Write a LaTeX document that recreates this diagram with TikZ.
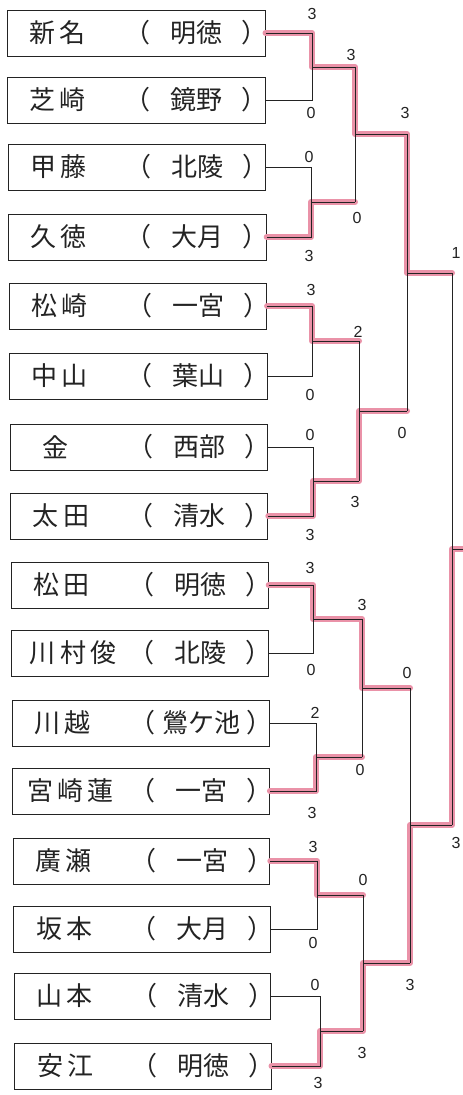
\documentclass[tikz,border=0pt]{standalone}
\usepackage{fontspec}
\newfontfamily\jp[LetterSpace=16]{Noto Sans CJK JP}
\newfontfamily\jpn{Noto Sans CJK JP}
\newfontfamily\digfont{Liberation Sans}
\definecolor{hl}{RGB}{234,146,168}
\definecolor{ink}{RGB}{35,35,35}
\begin{document}
\begin{tikzpicture}[x=1pt,y=-1pt,
  box/.style={draw=ink, line width=1pt, inner sep=0pt},
  nm/.style={font=\jp\fontsize{26}{26}\selectfont, anchor=west, inner sep=0pt, text=ink},
  par/.style={font=\jpn\fontsize{26}{26}\selectfont, inner sep=0pt, text=ink},
  sc/.style={font=\digfont\fontsize{16}{16}\selectfont, inner sep=0pt, text=ink},
  br/.style={draw=ink, line width=0.9pt},
  win/.style={draw=hl, line width=6pt, line join=round, line cap=round}]
\useasboundingbox (0,0) rectangle (463,1095);
\fill[white] (0,0) rectangle (463,1095);

% boxes and texts
\foreach \i/\c/\off/\n/\s in {0/33/22/新名/明徳, 1/100/22/芝崎/鏡野, 2/167/22/甲藤/北陵, 3/237/22/久徳/大月,
  4/306/22/松崎/一宮, 5/376/22/中山/葉山, 6/447/32/金/西部, 7/516/22/太田/清水,
  8/585/22/松田/明徳, 9/653/18/川村俊/北陵, 10/723/22/川越/鶯ケ池, 11/791/14/宮崎蓮/一宮,
  12/861/22/廣瀬/一宮, 13/929/22/坂本/大月, 14/996/22/山本/清水, 15/1066/22/安江/明徳} {
  \pgfmathsetmacro\L{7+0.533*\i}
  \pgfmathsetmacro\R{265+0.4*\i}
  \node[box, minimum width={(\R-\L)*1pt}, minimum height=46pt] (b\i) at ({(\L+\R)/2},\c) {};
  \node[nm] (n\i) at (\L+\off,\c) {\n};
  \node[par] (o\i) at (\L+130,\c) {（};
  \node[par] (sch\i) at (\L+189,\c) {\s};
  \node[par] (p\i) at (\L+247,\c) {）};
}

% junction coordinates
% round 1
\coordinate (a0) at (312,33);  \coordinate (a1) at (312,100); \coordinate (A) at (312,67);
\coordinate (a2) at (311,167); \coordinate (a3) at (311,237); \coordinate (B) at (311,202);
\coordinate (a4) at (312,306); \coordinate (a5) at (312,376); \coordinate (C) at (312,341);
\coordinate (a6) at (313,447); \coordinate (a7) at (313,516); \coordinate (D) at (313,481);
\coordinate (a8) at (313,585); \coordinate (a9) at (313,653); \coordinate (E) at (313,619);
\coordinate (a10) at (316,723); \coordinate (a11) at (316,791); \coordinate (F) at (316,757);
\coordinate (a12) at (317,861); \coordinate (a13) at (317,929); \coordinate (G) at (317,895);
\coordinate (a14) at (320,996); \coordinate (a15) at (320,1066); \coordinate (H) at (320,1031);
% round 2
\coordinate (A2) at (355,67);  \coordinate (B2) at (355,202); \coordinate (Q1) at (355,134);
\coordinate (C2) at (359,341); \coordinate (D2) at (359,481); \coordinate (Q2) at (359,411);
\coordinate (E2) at (362,619); \coordinate (F2) at (362,757); \coordinate (Q3) at (362,688);
\coordinate (G2) at (363,895); \coordinate (H2) at (363,1031); \coordinate (Q4) at (363,963);
% round 3
\coordinate (Q1b) at (407,134); \coordinate (Q2b) at (407,411); \coordinate (S1) at (407,273);
\coordinate (Q3b) at (410,688); \coordinate (Q4b) at (410,963); \coordinate (S2) at (410,825);
% final
\coordinate (S1b) at (452,273); \coordinate (S2b) at (452,825); \coordinate (W) at (452,549);
\coordinate (Wend) at (463,549);

% winner highlights
\draw[win] (b0.east |- a0) -- (a0) -- (A) -- (A2) -- (Q1) -- (Q1b) -- (S1) -- (S1b);
\draw[win] (b3.east |- a3) -- (a3) -- (B) -- (B2);
\draw[win] (b4.east |- a4) -- (a4) -- (C) -- (C2);
\draw[win] (b7.east |- a7) -- (a7) -- (D) -- (D2) -- (Q2) -- (Q2b);
\draw[win] (b8.east |- a8) -- (a8) -- (E) -- (E2) -- (Q3) -- (Q3b);
\draw[win] (b11.east |- a11) -- (a11) -- (F) -- (F2);
\draw[win] (b12.east |- a12) -- (a12) -- (G) -- (G2);
\draw[win] (b15.east |- a15) -- (a15) -- (H) -- (H2) -- (Q4) -- (Q4b) -- (S2) -- (S2b) -- (W) -- (Wend);

% bracket lines
\foreach \t/\u/\j/\p in {0/1/A/A2, 2/3/B/B2, 4/5/C/C2, 6/7/D/D2, 8/9/E/E2, 10/11/F/F2, 12/13/G/G2, 14/15/H/H2} {
  \draw[br] (b\t.east |- a\t) -- (a\t) -- (a\u) -- (b\u.east |- a\u);
  \draw[br] (\j) -- (\p);
}
\draw[br] (A2) -- (B2); \draw[br] (Q1) -- (Q1b);
\draw[br] (C2) -- (D2); \draw[br] (Q2) -- (Q2b);
\draw[br] (E2) -- (F2); \draw[br] (Q3) -- (Q3b);
\draw[br] (G2) -- (H2); \draw[br] (Q4) -- (Q4b);
\draw[br] (Q1b) -- (Q2b); \draw[br] (S1) -- (S1b);
\draw[br] (Q3b) -- (Q4b); \draw[br] (S2) -- (S2b);
\draw[br] (S1b) -- (S2b); \draw[br] (W) -- (Wend);

% scores
\foreach \k/\x/\y/\v in {s0/312/14/3, s1/311/113/0, s2/309/157/0, s3/309/256/3,
  s4/311/290/3, s5/310/395/0, s6/310/435/0, s7/310/535/3,
  s8/310/568/3, s9/311/670/0, s10/315/713/2, s11/312/813/3,
  s12/313/847/3, s13/313/943/0, s14/315/985/0, s15/318/1083/3,
  r1/351/55/3, r2/357/218/0, r3/358/332/2, r4/355/502/3,
  r5/362/605/3, r6/360/770/0, r7/363/880/0, r8/362/1053/3,
  q1/405/113/3, q2/402/433/0, q3/407/673/0, q4/410/985/3,
  f1/456/253/1, f2/456/843/3} {
  \node[sc] (\k) at (\x,\y) {\v};
}
\end{tikzpicture}
\end{document}
